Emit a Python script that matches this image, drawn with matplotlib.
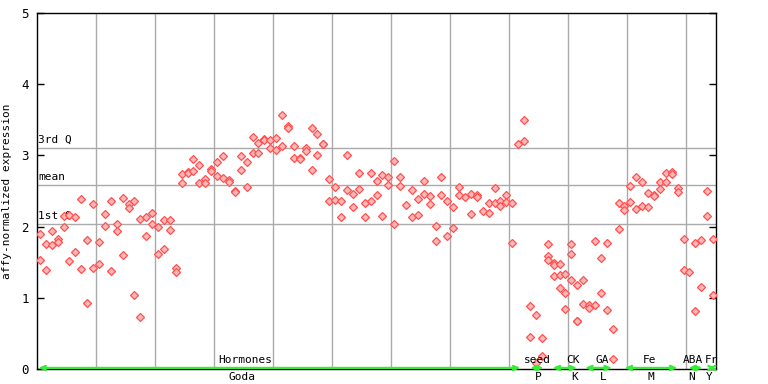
import matplotlib
matplotlib.use('Agg')
import matplotlib.pyplot as plt

# ---- data ----
sample_idx = [
    0, 0, 1, 1, 2, 2, 3, 3, 4, 4, 5, 5, 6, 6, 7, 7, 8, 8, 9, 9,
    10, 10, 11, 11, 12, 12, 13, 13, 14, 14, 15, 15, 16, 16, 17, 17, 18, 18, 19, 19,
    20, 20, 21, 21, 22, 22, 23, 23, 24, 24, 25, 25, 26, 26, 27, 27, 28, 28, 29, 29,
    30, 30, 31, 31, 32, 32, 33, 33, 34, 34, 35, 35, 36, 36, 37, 37, 38, 38, 39, 39,
    40, 40, 41, 41, 42, 42, 43, 43, 44, 44, 45, 45, 46, 46, 47, 47, 48, 48, 49, 49,
    50, 50, 51, 51, 52, 52, 53, 53, 54, 54, 55, 55, 56, 56, 57, 57, 58, 58, 59, 59,
    60, 60, 61, 61, 62, 63, 63, 64, 64, 65, 65, 66, 66, 67, 67, 68, 68, 69, 69,
    70, 70, 71, 71, 72, 73, 73, 74, 74, 75, 76, 76, 77, 77, 78, 78, 79, 79,
    80, 80, 81, 82, 82, 83, 83, 84, 84, 85, 85, 86, 86, 86, 87, 87, 87, 88, 88, 88,
    89, 89, 89, 90, 90, 90, 91, 91, 91, 92, 92, 93, 93, 94, 94, 95, 95, 96, 96, 97, 97,
    98, 98, 99, 99, 100, 100, 101, 101, 102, 102, 103, 103, 104, 104, 105, 105,
    106, 106, 107, 107, 108, 108, 109, 109, 110, 111, 111, 112, 112, 113, 113, 114, 114,
]
expr = [
    1.894, 1.528, 1.753, 1.388, 1.936, 1.739, 1.823, 1.781, 2.147, 1.992,
    2.161, 1.514, 2.133, 1.641, 2.386, 1.402, 1.809, 0.924, 2.315, 1.416,
    1.781, 1.472, 2.175, 2.006, 2.358, 1.374, 2.034, 1.936, 2.400, 1.598,
    2.315, 2.259, 2.358, 1.036, 2.105, 0.727, 2.133, 1.866, 2.189, 2.034,
    1.992, 1.613, 2.091, 1.683, 2.091, 1.950, 1.416, 1.360, 2.737, 2.611,
    2.765, 2.751, 2.948, 2.779, 2.864, 2.611, 2.667, 2.611, 2.808, 2.780,
    2.906, 2.709, 2.990, 2.681, 2.653, 2.625, 2.498, 2.484, 2.990, 2.793,
    2.906, 2.554, 3.257, 3.032, 3.173, 3.032, 3.234, 3.220, 3.215, 3.103,
    3.243, 3.075, 3.567, 3.131, 3.416, 3.384, 3.131, 2.962, 2.962, 2.950,
    3.103, 3.061, 3.384, 2.793, 3.300, 3.004, 3.167, 3.160, 2.675, 2.358,
    2.554, 2.372, 2.358, 2.133, 3.004, 2.512, 2.456, 2.273, 2.751, 2.526,
    2.330, 2.133, 2.751, 2.358, 2.639, 2.442, 2.723, 2.147, 2.695, 2.583,
    2.920, 2.034, 2.695, 2.569, 2.301, 2.512, 2.133, 2.386, 2.161, 2.639, 2.456,
    2.428, 2.316, 2.006, 1.795, 2.695, 2.442, 2.358, 1.866,
    2.273, 1.978, 2.554, 2.442, 2.414, 2.456, 2.175, 2.442, 2.414, 2.217,
    2.330, 2.189, 2.540, 2.330, 2.358, 2.287, 2.442, 2.344,
    2.330, 1.767, 3.159, 3.491, 3.201, 0.881, 0.446, 0.755, 0.080, 0.432, 0.179,
    1.753, 1.584, 1.528, 1.486, 1.458, 1.303, 1.472, 1.318, 1.135,
    1.331, 1.064, 0.839, 1.753, 1.613, 1.247, 1.177, 0.679, 0.670,
    1.247, 0.910, 0.896, 0.853, 1.795, 0.896, 1.556, 1.064, 1.767, 0.825, 0.558, 0.136,
    2.330, 1.964, 2.287, 2.231, 2.569, 2.344, 2.695, 2.245, 2.625, 2.287,
    2.470, 2.273, 2.442, 2.430, 2.625, 2.526,
    2.751, 2.625, 2.765, 2.737, 2.540, 2.484, 1.823, 1.388, 1.360, 1.767, 0.811,
    1.809, 1.149, 2.498, 2.147, 1.823, 1.036,
]

n_samples = 115
quartile_names = ['3rd Q', 'mean', '1st Q']
quartile_values = [3.107, 2.587, 2.039]

group_names = ['Hormones', 'seed', 'CK', 'GA', 'Fe', 'ABA', 'Fr']
group_sub = ['Goda', 'P', 'K', 'L', 'M', 'N', 'Y']
y_ticks = [0, 1, 2, 3, 4, 5]

# ---- layout (not data) ----
arrow_spans = [(0.2, 81.9), (83.5, 85.8), (87.3, 91.5), (92.8, 97.4),
               (99.5, 108.5), (110.3, 112.7), (113.6, 115.0)]
label_x = [35.3, 84.8, 90.8, 95.7, 103.7, 111.1, 114.3]
sub_x = [34.8, 84.9, 91.0, 95.9, 103.9, 110.8, 113.9]

MONO = 'DejaVu Sans Mono'
FS = 8

fig = plt.figure(figsize=(7.68, 3.84), dpi=100)
ax = fig.add_axes([37 / 768, 15 / 384, (716 - 37) / 768, (369 - 13) / 384])
ax.set_xlim(0, n_samples)
ax.set_ylim(0, 5)

grid_c = '#aaaaaa'
for gx in range(10, n_samples, 10):
    ax.axvline(gx, color=grid_c, lw=1.0, zorder=1)
for name, val in zip(quartile_names, quartile_values):
    ax.axhline(val, color=grid_c, lw=1.0, zorder=1)
    ax.text(0.15, val + 0.04, name, fontsize=FS, family=MONO, ha='left', va='bottom',
            color='black', zorder=2)

xs = [i + 0.5 for i in sample_idx]
ax.plot(xs, expr, linestyle='none', marker='D', markersize=4.0,
        markerfacecolor='#ffb8b8', markeredgecolor='#ff5050', markeredgewidth=0.9,
        zorder=3)

# group arrows and labels
for (s, e), name, sub, lx, sx in zip(arrow_spans, group_names, group_sub, label_x, sub_x):
    ax.annotate('', xy=(e, 0.015), xytext=(s, 0.015), xycoords='data',
                arrowprops=dict(arrowstyle='<->,head_length=0.35,head_width=0.15',
                                color='#33ee33', lw=1.6, shrinkA=0, shrinkB=0),
                annotation_clip=False, zorder=4)
    ax.text(lx, 0.055, name, fontsize=FS, family=MONO, ha='center', va='bottom',
            clip_on=False, zorder=5)
    ax.text(sx, -0.04, sub, fontsize=FS, family=MONO, ha='center', va='top',
            clip_on=False, zorder=5)

for sp in ax.spines.values():
    sp.set_color('black')
    sp.set_linewidth(1.0)

ax.set_yticks(y_ticks)
ax.set_yticklabels([str(t) for t in y_ticks], fontsize=FS + 1, family=MONO)
ax.set_xticks([])
ax.tick_params(axis='y', direction='in', length=5, width=1, right=True, left=True,
               labelright=False, pad=6)
ax.set_ylabel('affy-normalized expression', fontsize=FS, family=MONO, labelpad=4)
ax.yaxis.set_label_coords(-0.037, 0.5)

fig.savefig('out.png', dpi=100)
